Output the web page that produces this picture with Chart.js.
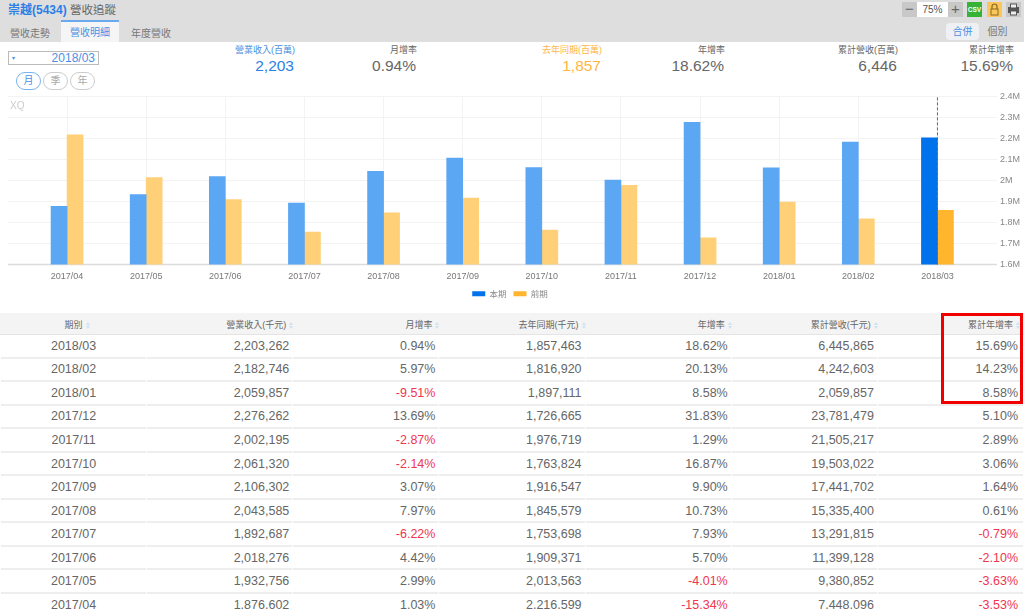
<!DOCTYPE html>
<html lang="zh-Hant"><head><meta charset="utf-8">
<script src="https://cdn.jsdelivr.net/npm/chart.js@4"></script>
<style>
html,body{margin:0;padding:0;background:#fff;width:1024px;height:609px;overflow:hidden;font-family:"Liberation Sans","Noto Sans CJK TC",sans-serif;color:#666}
.a{position:absolute;white-space:nowrap}
#bar{left:0;top:0;width:1024px;height:42px;background:#dedede}
#tab{left:61px;top:20px;width:58px;height:22px;background:#f5f5f5;border-top:2px solid #6aa9ee;box-sizing:border-box;text-align:center;font-size:10px;line-height:21px;color:#4a90e2}
.btn{height:15px;top:2px;text-align:center;line-height:15px;font-size:10px;box-sizing:border-box}
.lbl{font-size:9px;text-align:right;line-height:12px;top:44px}
.val{font-size:15.5px;text-align:right;line-height:18px;top:57px}
.cir{top:72px;width:25px;height:18px;border:1px solid #ccc;border-radius:9px;box-sizing:border-box;text-align:center;font-size:10px;line-height:16px;color:#aaa}
#chartbox{left:-2px;top:88px;width:1024px;height:220px}
#strip{left:0;top:313px;width:1024px;height:21px;background:#f4f4f4;border-bottom:1px solid #e4e4e4}
table{position:absolute;left:0;top:313px;width:1024px;border-collapse:separate;border-spacing:1px 0;table-layout:fixed}
th{height:22px;font-weight:normal;font-size:9px;text-align:right;padding:0;color:#666}
th:last-child{padding-right:4px}
td{height:21.55px;padding:0 3px 0 0;font-size:12.5px;text-align:right;border-bottom:2px solid #eee;color:#666;line-height:14px}
td:last-child{padding-right:5px}
td:first-child{text-align:center;padding:0}
th:first-child{text-align:center;padding-left:6px}
.n{color:#f0354f}
.s{display:inline-block;width:5px;height:7px;margin-left:3px;margin-right:-2px;vertical-align:-1px;position:relative}
.s:before,.s:after{content:"";position:absolute;left:0;border-left:2.5px solid transparent;border-right:2.5px solid transparent}
.s:before{top:0;border-bottom:3px solid #cfe2f3}
.s:after{bottom:0;border-top:3px solid #cfe2f3}
#red{left:941px;top:313px;width:82px;height:91px;border:3px solid #f00000;box-sizing:border-box}
</style></head><body>
<div class="a" id="bar"></div>
<div class="a" style="left:8px;top:2px;font-size:12px;line-height:16px;color:#666"><b style="color:#2b7fe6">崇越(5434)</b> <span style="font-size:11.5px">營收追蹤</span></div>
<div class="a" style="left:10px;top:27px;font-size:10px;line-height:13px;color:#777">營收走勢</div>
<div class="a" id="tab">營收明細</div>
<div class="a" style="left:131px;top:27px;font-size:10px;line-height:13px;color:#777">年度營收</div>
<div class="a btn" style="left:902px;width:15px;background:#c8c8c8;font-size:15px;line-height:13px">−</div>
<div class="a btn" style="left:917px;width:31px;background:#fff;color:#555">75%</div>
<div class="a btn" style="left:948px;width:15px;background:#c8c8c8;font-size:15px;line-height:13px">+</div>
<div class="a btn" style="left:967px;width:15px;background:#36b336;color:#fff;font-size:6.5px;font-weight:bold">CSV</div>
<div class="a btn" style="left:987px;width:15px;background:#fbc65c"><svg width="15" height="15" viewBox="0 0 15 15"><path d="M5 7V4.5a2.5 2.5 0 0 1 5 0V7" fill="none" stroke="#8a6a20" stroke-width="1.2"/><rect x="4" y="7" width="7" height="6" fill="none" stroke="#8a6a20"/></svg></div>
<div class="a btn" style="left:1006px;width:15px;background:#c8c8c8"><svg width="15" height="15" viewBox="0 0 15 15"><rect x="2" y="5" width="11" height="6" fill="#555"/><rect x="4.5" y="2" width="6" height="4" fill="#eee" stroke="#555"/><rect x="4.5" y="9" width="6" height="4" fill="#eee" stroke="#555"/></svg></div>
<div class="a" style="left:946px;top:23px;width:33px;height:17px;background:#eef0f3;border-radius:4px;text-align:center;font-size:10px;line-height:17px;color:#4a90e2">合併</div>
<div class="a" style="left:981px;top:23px;width:33px;height:17px;text-align:center;font-size:10px;line-height:17px;color:#777">個別</div>

<div class="a" style="left:8px;top:51px;width:91px;height:14px;border:1px solid #bbb;box-sizing:border-box;font-size:12px;line-height:12px;text-align:right;padding-right:3px;color:#4a90e2"><span style="position:absolute;left:3px;top:0;font-size:6px">▾</span>2018/03</div>
<div class="a cir" style="left:16px;border-color:#7ab3ee;color:#4a90e2">月</div>
<div class="a cir" style="left:43px">季</div>
<div class="a cir" style="left:70px">年</div>
<div id="summary"></div>
<div class="a" id="chartbox"><canvas id="c"></canvas></div>
<div class="a" style="left:10px;top:100px;font-size:10px;line-height:12px;color:#ccc">XQ</div>
<div class="a" id="strip"></div>
<table id="t"></table>
<div class="a" id="red"></div>
<script>
const periods=["2018/03","2018/02","2018/01","2017/12","2017/11","2017/10","2017/09","2017/08","2017/07","2017/06","2017/05","2017/04"];
const revenue=[2203262,2182746,2059857,2276262,2002195,2061320,2106302,2043585,1892687,2018276,1932756,1876602];
const monthGrowth=["0.94%","5.97%","-9.51%","13.69%","-2.87%","-2.14%","3.07%","7.97%","-6.22%","4.42%","2.99%","1.03%"];
const lastYear=[1857463,1816920,1897111,1726665,1976719,1763824,1916547,1845579,1753698,1909371,2013563,2216599];
const yearGrowth=["18.62%","20.13%","8.58%","31.83%","1.29%","16.87%","9.90%","10.73%","7.93%","5.70%","-4.01%","-15.34%"];
const cumulative=[6445865,4242603,2059857,23781479,21505217,19503022,17441702,15335400,13291815,11399128,9380852,7448096];
const cumGrowth=["15.69%","14.23%","8.58%","5.10%","2.89%","3.06%","1.64%","0.61%","-0.79%","-2.10%","-3.63%","-3.53%"];
const headers=["期別","營業收入(千元)","月增率","去年同期(千元)","年增率","累計營收(千元)","累計年增率"];
const summaryLabels=["營業收入(百萬)","月增率","去年同期(百萬)","年增率","累計營收(百萬)","累計年增率"];
const summaryValues=["2,203","0.94%","1,857","18.62%","6,446","15.69%"];
const summaryRight=[295,417,602,725,898,1014];
const summaryColors=["#2b7fe6","#666","#ffb53f","#666","#666","#666"];
const yTicks=[1600000,1700000,1800000,1900000,2000000,2100000,2200000,2300000,2400000];
const legendNames=["本期","前期"];

const fmt=n=>n.toLocaleString("en-US");
document.getElementById("summary").innerHTML=summaryLabels.map((l,i)=>{
  const r=1024-summaryRight[i];
  const lc=summaryColors[i]==="#666"?"#666":(i===0?"#4a90e2":"#ffb53f");
  return `<div class="a lbl" style="right:${r}px;color:${lc}">${l}</div><div class="a val" style="right:${r+1}px;color:${summaryColors[i]}">${summaryValues[i]}</div>`;
}).join("");
const pct=s=>`<td${s[0]==="-"?' class="n"':""}>${s}</td>`;
let h="<tr>"+headers.map(x=>`<th>${x}<span class="s"></span></th>`).join("")+"</tr>";
periods.forEach((p,i)=>{h+=`<tr><td>${p}</td><td>${fmt(revenue[i])}</td>${pct(monthGrowth[i])}<td>${fmt(lastYear[i])}</td>${pct(yearGrowth[i])}<td>${fmt(cumulative[i])}</td>${pct(cumGrowth[i])}</tr>`;});
document.getElementById("t").innerHTML=h;

const labels=[...periods].reverse();
const cur=[...revenue].reverse();
const prev=[...lastYear].reverse();
const last=labels.length-1;
const colsCur=labels.map((_,i)=>i===last?"#0072eb":"#5ba7f3");
const colsPrev=labels.map((_,i)=>i===last?"#ffb52e":"#ffd077");

const extras={id:"extras",
  beforeDatasetsDraw(ch){
    const {ctx,scales:{y},chartArea:a}=ch;
    ctx.save();ctx.strokeStyle="#dcdcdc";ctx.lineWidth=1.5;
    const b=y.getPixelForValue(yTicks[0]);
    ctx.beginPath();ctx.moveTo(a.left-19.5,b);ctx.lineTo(a.right+20,b);ctx.stroke();ctx.restore();
  },
  afterDatasetsDraw(ch){
    const {ctx,scales:{x},chartArea:a}=ch;
    const px=x.getPixelForValue(last);
    ctx.save();ctx.strokeStyle="#666";ctx.lineWidth=1;ctx.setLineDash([3,2]);
    ctx.beginPath();ctx.moveTo(px,a.top+1);ctx.lineTo(px,a.bottom);ctx.stroke();ctx.restore();
  }};

new Chart(document.getElementById("c"),{
  type:"bar",
  data:{labels,datasets:[
    {label:legendNames[0],data:cur,backgroundColor:colsCur,barThickness:16,yAxisID:"y"},
    {label:legendNames[1],data:prev,backgroundColor:colsPrev,barThickness:16,yAxisID:"y"}
  ]},
  options:{
    responsive:true,maintainAspectRatio:false,animation:false,
    layout:{padding:{top:7,bottom:0,left:0,right:0}},
    datasets:{bar:{categoryPercentage:1,barPercentage:1}},
    plugins:{tooltip:{enabled:false},
      legend:{position:"bottom",labels:{boxWidth:13,boxHeight:5,padding:7,color:"#888",font:{size:8.5,family:'"Noto Sans CJK TC","Liberation Sans"'},
        generateLabels:()=>[
          {text:legendNames[0],fillStyle:"#0072eb",strokeStyle:"#0072eb",lineWidth:0,fontColor:"#888",datasetIndex:0},
          {text:legendNames[1],fillStyle:"#ffb52e",strokeStyle:"#ffb52e",lineWidth:0,fontColor:"#888",datasetIndex:1}]}}},
    scales:{
      x:{grid:{color:"#f3f3f3",offset:false,drawTicks:false},border:{display:false},
        afterFit:s=>{s.height=18;},
        ticks:{color:"#777",font:{size:9,family:"Liberation Sans"},padding:7,maxRotation:0,autoSkip:false}},
      y:{position:"right",min:1600000,max:2400000,
        afterBuildTicks:s=>{s.ticks=yTicks.map(v=>({value:v}));},
        afterFit:s=>{s.width=45;},
        grid:{color:"#f3f3f3",tickLength:20,tickColor:"#f3f3f3"},border:{display:false},
        ticks:{color:"#888",font:{size:9,family:"Liberation Sans"},padding:3,
          callback:v=>(v/1000000)+"M"}},
      yl:{position:"left",min:1600000,max:2400000,
        afterBuildTicks:s=>{s.ticks=yTicks.map(v=>({value:v}));},
        afterFit:s=>{s.width=29.5;},
        grid:{drawOnChartArea:false,tickLength:20,tickColor:"#f3f3f3"},border:{display:false},
        ticks:{callback:()=>"",padding:0}}
    }
  },
  plugins:[extras]
});
</script>
</body></html>
